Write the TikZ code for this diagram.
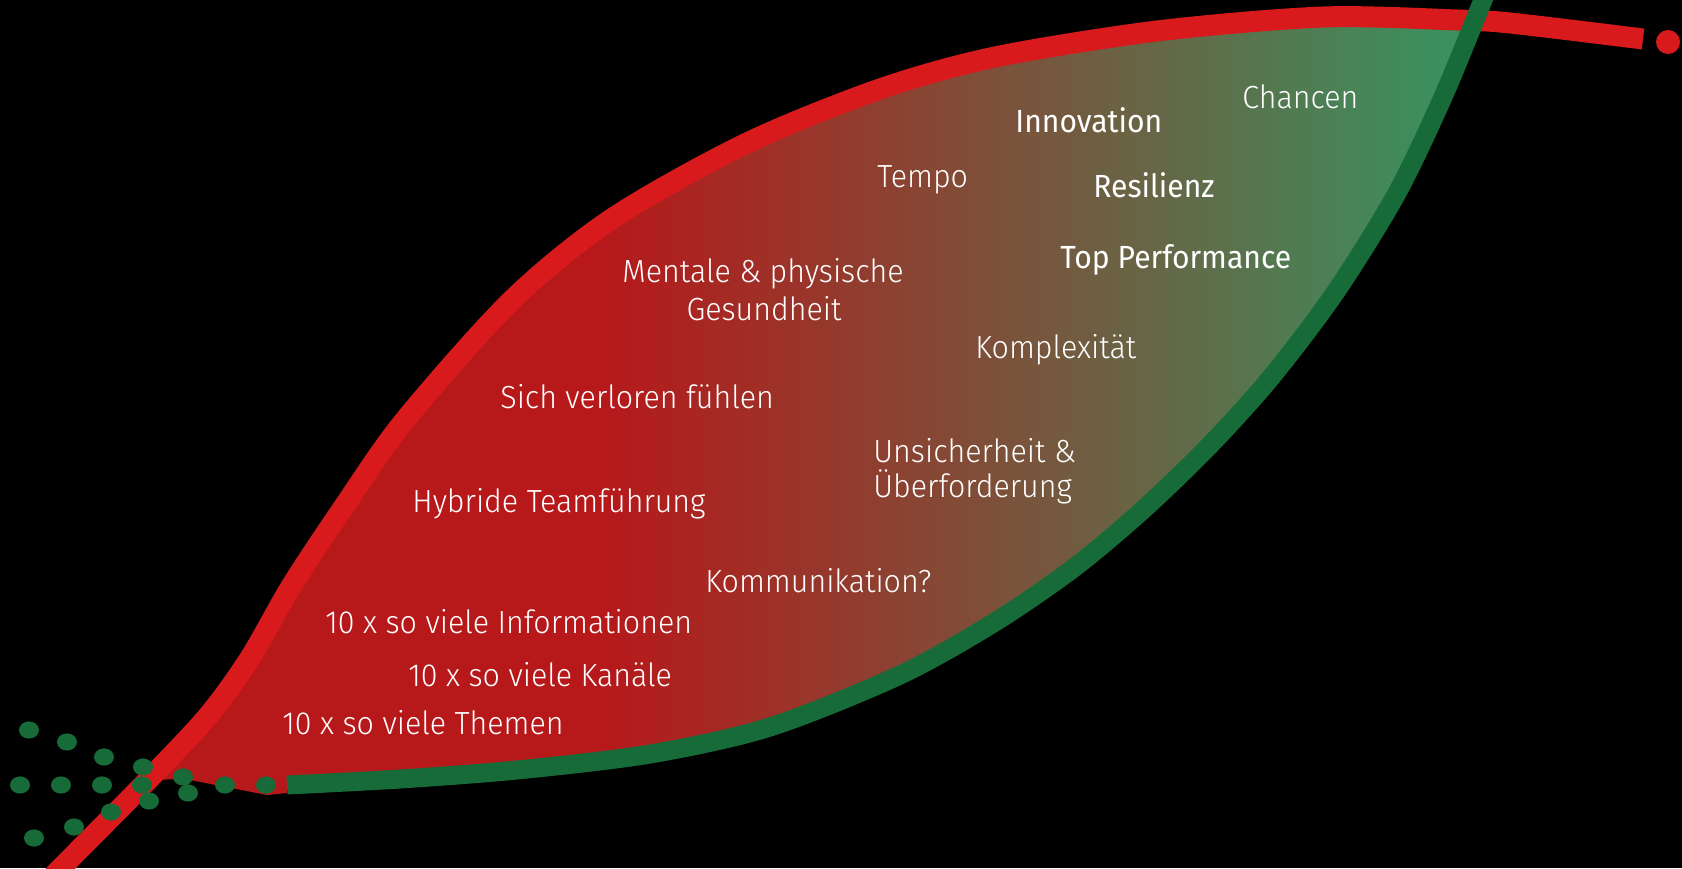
\documentclass[tikz,border=0pt]{standalone}
\usepackage{fontspec}
\setmainfont{Fira Sans Light}[FakeStretch=0.95]
\newfontfamily\regfont{Fira Sans}[FakeStretch=0.94]
\definecolor{bg}{RGB}{0,0,0}
\definecolor{redline}{RGB}{216,26,28}
\definecolor{redfill}{RGB}{183,24,26}
\definecolor{greenline}{RGB}{22,107,56}
\definecolor{greenfill}{RGB}{58,145,94}
\begin{document}
\begin{tikzpicture}[x={(0.5pt,0)}, y={(0,-0.5pt)},
  lbl/.style={text=white, inner sep=0pt, anchor=base west, font=\fontsize{16}{19}\selectfont},
  lblb/.style={lbl, font=\regfont\fontsize{16}{19}\selectfont},
  dot/.style={fill=greenline},
  redcurve/.style={draw=redline, line width=10.5pt, line cap=butt},
  greencurve/.style={draw=greenline, line width=9.5pt, line cap=butt}]
\useasboundingbox (0,0) rectangle (1682,868);
\fill[bg] (0,0) rectangle (1682,868);
% leaf fill with gradient
\begin{scope}
\clip plot[smooth] coordinates {(148,780) (208,716) (250,658) (292,585) (345,505) (405,420) (512,300) (613,218) (747,143) (880,89) (995,57) (1157,31) (1323,17) (1457,20) (1480,21)}
  -- plot[smooth] coordinates {(1478,12) (1443,97) (1397,193) (1337,290) (1273,375) (1212,443) (1145,508) (1075,567) (995,622) (900,675) (770,727) (650,754) (517,770) (400,779) (287,785)}
  -- (287,793) -- (267,795) -- (185,779) -- cycle;
\fill[redfill] (0,0) rectangle (600,868);
\shade[left color=redfill, right color=greenfill] (600,0) rectangle (1450,868);
\fill[greenfill] (1450,0) rectangle (1682,868);
\end{scope}
% red line
\draw[redcurve] plot[smooth] coordinates {(20,910) (61,868) (148,780) (208,716) (250,658) (292,585) (345,505) (405,420) (512,300) (613,218) (747,143) (880,89) (995,57) (1157,31) (1323,17) (1457,20) (1510,23) (1643,39)};
\fill[redline] (1668,42) circle[radius=6pt];
% green line
\draw[greencurve] plot[smooth] coordinates {(1495,-30) (1483,0) (1443,97) (1397,193) (1337,290) (1273,375) (1212,443) (1145,508) (1075,567) (995,622) (900,675) (770,727) (650,754) (517,770) (400,779) (287,785)};
% dots
\foreach \px/\py in {29/730, 67/742, 104/757, 143/767, 20/785, 61/785, 102/785, 142/785, 183/777, 225/785, 266/785, 188/793, 149/801, 111/812, 74/827, 34/838}
  \fill[dot] (\px,\py) ellipse[x radius=5pt, y radius=4.3pt];
% labels
\node[lblb] (innov) at (1015,132) {Innovation};
\node[lbl] (chancen) at (1242,108) {Chancen};
\node[lblb] (resil) at (1093,197) {Resilienz};
\node[lblb] (topperf) at (1060,268) {Top Performance};
\node[lbl] (tempo) at (877,187) {Tempo};
\node[lbl, anchor=base] (mental) at (763,282) {Mentale \& physische};
\node[lbl, anchor=base] (gesund) at (764,320) {Gesundheit};
\node[lbl] (komplex) at (975,358) {Komplexität};
\node[lbl] (unsich) at (873,462) {Unsicherheit \&};
\node[lbl] (ueber) at (873,497) {Überforderung};
\node[lbl] (verloren) at (500,408) {Sich verloren fühlen};
\node[lbl] (hybrid) at (412,512) {Hybride Teamführung};
\node[lbl] (kommu) at (705,592) {Kommunikation?};
\node[lbl] (info) at (325,633) {10 x so viele Informationen};
\node[lbl] (kanal) at (408,686) {10 x so viele Kanäle};
\node[lbl] (themen) at (282,734) {10 x so viele Themen};
\end{tikzpicture}
\end{document}
